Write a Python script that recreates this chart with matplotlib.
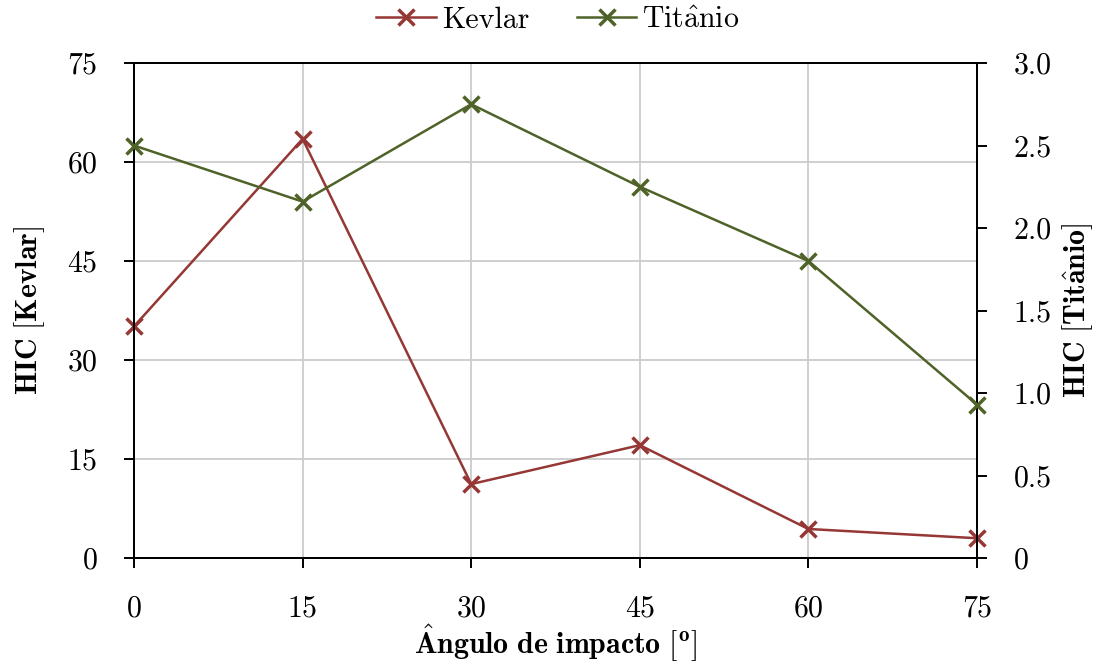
import matplotlib
matplotlib.use("Agg")
import matplotlib.pyplot as plt

plt.rcParams['font.family'] = ['cmr10', 'DejaVu Serif']
plt.rcParams['mathtext.fontset'] = 'cm'
plt.rcParams['axes.formatter.use_mathtext'] = True
plt.rcParams['axes.unicode_minus'] = False

# Impact angle (degrees) and HIC values per material
angles = [0, 15, 30, 45, 60, 75]
hic_kevlar = [35.1, 63.5, 11.2, 17.1, 4.4, 3.0]
hic_titanio = [2.50, 2.16, 2.75, 2.25, 1.80, 0.93]

x_ticks = [0, 15, 30, 45, 60, 75]
left_ticks = [0, 15, 30, 45, 60, 75]
right_ticks = [0, 0.5, 1.0, 1.5, 2.0, 2.5, 3.0]
right_tick_labels = ['0', '0.5', '1.0', '1.5', '2.0', '2.5', '3.0']

c_kevlar = '#953735'
c_titanio = '#4F6228'
fs = 21.5

fig = plt.figure(figsize=(10.96, 6.64), dpi=100)
ax = fig.add_axes([0.1223, 0.1596, 0.8914 - 0.1223, 0.9051 - 0.1596])
ax2 = ax.twinx()

l1, = ax.plot(angles, hic_kevlar, color=c_kevlar, lw=1.8, marker='x',
              ms=11, mew=2.5, clip_on=False, zorder=5, label='Kevlar')
l2, = ax2.plot(angles, hic_titanio, color=c_titanio, lw=1.8, marker='x',
               ms=11, mew=2.5, clip_on=False, zorder=5,
               label=r'$\mathrm{Tit\hat{a}nio}$')

ax.set_xlim(0, 75)
ax.set_ylim(0, 75)
ax2.set_ylim(0, 3.0)
ax.set_xticks(x_ticks)
ax.set_yticks(left_ticks)
ax2.set_yticks(right_ticks)
ax2.set_yticklabels(right_tick_labels)

ax.grid(True, color='#cccccc', lw=1.3)
ax.set_axisbelow(True)

for a in (ax, ax2):
    for s in a.spines.values():
        s.set_linewidth(1.4)
        s.set_color('black')
    a.tick_params(direction='out', length=7.5, width=1.4, pad=19,
                  labelsize=fs, color='black')
ax.tick_params(top=False, right=False)

ax.set_xlabel(r'$\mathbf{\hat{A}ngulo\ de\ impacto\ [^o]}$', fontsize=fs,
              labelpad=0)
ax.set_ylabel(r'$\mathbf{HIC\ [Kevlar]}$', fontsize=fs, labelpad=14)
ax2.set_ylabel(r'$\mathbf{HIC\ [Tit\hat{a}nio]}$', fontsize=fs, labelpad=6)

fig.legend(handles=[l1, l2], loc='center', bbox_to_anchor=(0.509, 0.97),
           ncol=2, frameon=False, fontsize=fs, handlelength=2.0,
           handletextpad=0.2, columnspacing=1.6)

fig.savefig('out.png', dpi=100)
